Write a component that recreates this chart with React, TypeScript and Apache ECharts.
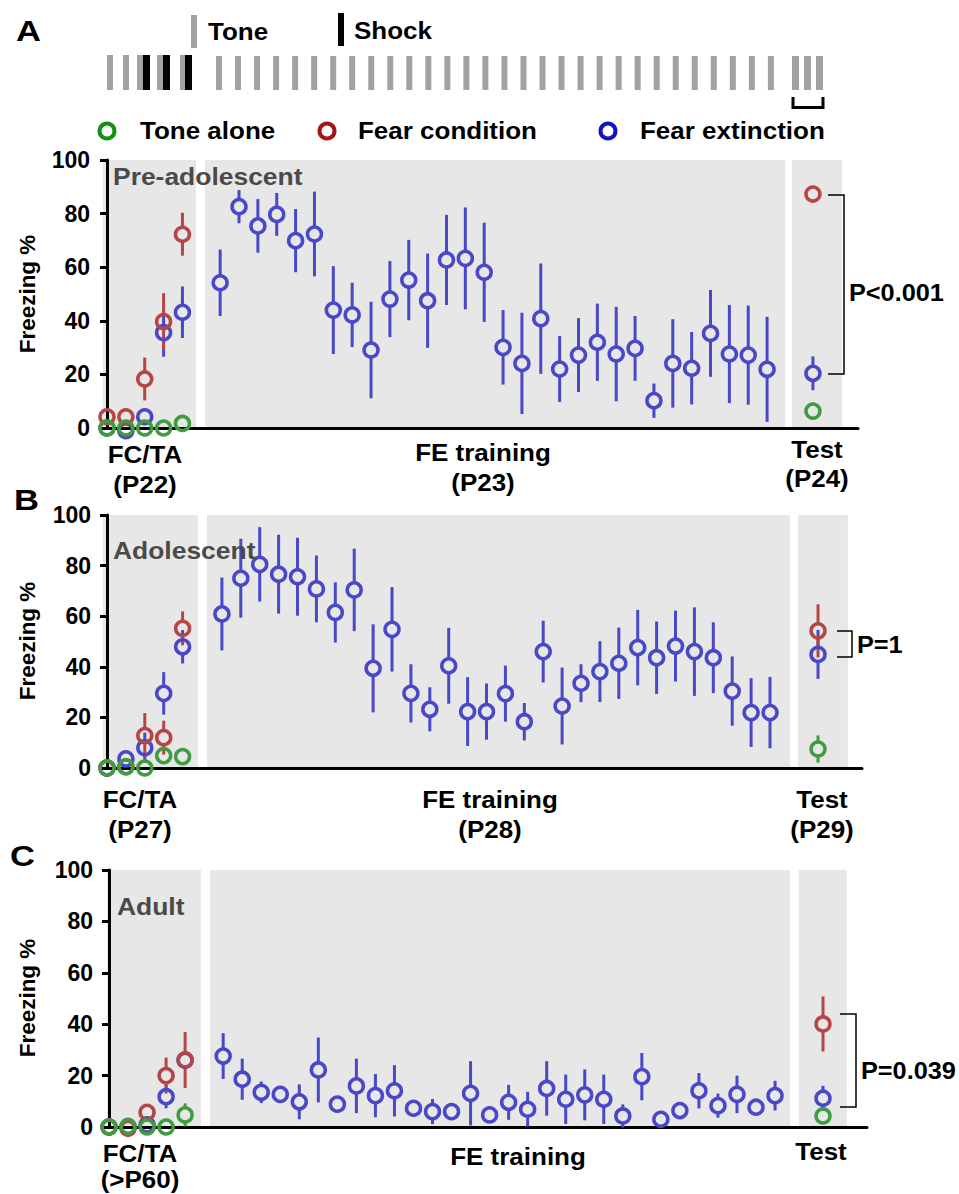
import React, { useEffect, useRef } from "react";
import * as echarts from "echarts";

const FONT = '"Liberation Sans", Arial, Helvetica, sans-serif';

// plot colours
const C_TONE = "#3f9c3f";
const C_FEAR = "#b64646";
const C_EXT = "#4848c8";
// legend colours
const L_TONE = "#129112";
const L_FEAR = "#a31616";
const L_EXT = "#1313c3";

// ---------------- DATA ----------------
const GROUPS = ["Tone alone", "Fear condition", "Fear extinction"];
const TICKS = [0, 20, 40, 60, 80, 100];

// Panel A: Pre-adolescent (FC/TA P22, FE P23, Test P24)
const A_TONE_FC = [0, 0, 0, 0, 1.7];
const A_TONE_FC_SEM = [0, 0, 0, 0, 0];
const A_FEAR_FC = [4.2, 4.2, 18.3, 39.7, 72.3];
const A_FEAR_FC_SEM = [0, 0, 8, 10.6, 8];
const A_EXT_FC = [0, -1, 4.2, 35.6, 43.2];
const A_EXT_FC_SEM = [0, 0, 0, 9, 9.6];
const A_EXT_FE = [54.2, 82.6, 75.4, 79.7, 69.9, 72.4, 44, 42.2, 29.1, 48.1, 55.2, 47.5, 62.7, 63.3, 58.1, 30.1, 24.1, 40.8, 22, 27.2, 32, 27.6, 29.7, 10.2, 24.1, 22.3, 35.3, 27.6, 27.2, 21.9];
const A_EXT_FE_SEM = [12.4, 6.2, 10, 8, 11.8, 15.8, 16.4, 12, 18, 14.2, 15, 17.6, 16.8, 19, 18.5, 13.9, 18.9, 20.6, 12.3, 13.8, 14.4, 17.6, 12.1, 6.4, 16.5, 13.5, 16.2, 18.3, 18.5, 19.6];
const A_TEST = [6.3, 87.3, 20.4]; // tone, fear, extinction
const A_TEST_SEM = [0, 0, 6.3];

// Panel B: Adolescent (FC/TA P27, FE P28, Test P29)
const B_TONE_FC = [0, 0.5, 0, 4.9, 4.5];
const B_TONE_FC_SEM = [0, 0, 0, 0, 0];
const B_FEAR_FC = [0, 0.5, 12.8, 12, 55.2];
const B_FEAR_FC_SEM = [0, 0, 8.9, 6.7, 6.7];
const B_EXT_FC = [0, 3.6, 8, 29.5, 47.9];
const B_EXT_FC_SEM = [0, 0, 6, 8.4, 6.6];
const B_EXT_FE = [60.9, 75, 80.5, 76.6, 75.6, 70.8, 61.5, 70.4, 39.4, 54.8, 29.5, 23.2, 40.4, 22.3, 22.3, 29.4, 18.3, 46, 24.5, 33.5, 38.1, 41.4, 47.6, 43.6, 48.2, 46, 43.6, 30.4, 21.9, 21.9];
const B_EXT_FE_SEM = [14.4, 15.6, 14.7, 15.6, 15.4, 13.2, 11.9, 16.3, 17.4, 16.7, 11.5, 8.7, 15, 13.6, 11.1, 11.1, 7.4, 12.2, 15.2, 7.5, 12, 14.1, 14.9, 14.3, 14, 17.5, 14, 13.7, 13.6, 14.1];
const B_TEST = [7.5, 54.2, 44.9];
const B_TEST_SEM = [5.4, 10.5, 9.7];

// Panel C: Adult (FC/TA >P60, FE, Test)
const C_TONE_FC = [0, 0.3, 0, 0, 4.7];
const C_TONE_FC_SEM = [0, 0, 0, 0, 4.5];
const C_FEAR_FC = [0, -0.5, 5.7, 20, 26.1];
const C_FEAR_FC_SEM = [0, 0, 0, 7, 10.9];
const C_EXT_FC = [0, 0, 0.8, 11.8, 26];
const C_EXT_FC_SEM = [0, 0, 0, 4.5, 0];
const C_EXT_FE = [27.6, 18.6, 13.5, 12.7, 9.8, 22.2, 8.9, 16, 12.2, 14.1, 7.3, 6, 6, 13.1, 4.7, 9.6, 6.9, 15, 10.8, 12.5, 10.8, 4.3, 19.6, 3, 6.4, 14.1, 8.3, 12.7, 7.7, 12.2];
const C_EXT_FE_SEM = [8.9, 8, 4.2, 0, 6.8, 12.6, 0, 10.6, 8.4, 10, 0, 4.9, 0, 12.5, 0, 6.8, 6.8, 10.6, 9.6, 9.9, 9.6, 4.5, 9.2, 0, 0, 6.9, 4.7, 7.3, 0, 5.8];
const C_TEST = [4.3, 40.1, 11.2];
const C_TEST_SEM = [0, 10.7, 4.8];

// ---------------- LAYOUT ----------------
type PanelData = {
  toneFC: number[]; toneFCSem: number[];
  fearFC: number[]; fearFCSem: number[];
  extFC: number[]; extFCSem: number[];
  extFE: number[]; extFESem: number[];
  test: number[]; testSem: number[];
};

const PANELS = [
  {
    left: 102, right: 858, top: 160, height: 268, origin: 107, step: 18.86, feStart: 6, testX: 37.43,
    bgs: [[-0.21, 4.72], [5.2, 35.95], [36.32, 38.97]],
    data: { toneFC: A_TONE_FC, toneFCSem: A_TONE_FC_SEM, fearFC: A_FEAR_FC, fearFCSem: A_FEAR_FC_SEM, extFC: A_EXT_FC, extFCSem: A_EXT_FC_SEM, extFE: A_EXT_FE, extFESem: A_EXT_FE_SEM, test: A_TEST, testSem: A_TEST_SEM } as PanelData,
  },
  {
    left: 103, right: 862, top: 515, height: 253, origin: 107, step: 18.9, feStart: 6.08, testX: 37.62,
    bgs: [[-0.21, 4.81], [5.29, 36.14], [36.56, 39.2]],
    data: { toneFC: B_TONE_FC, toneFCSem: B_TONE_FC_SEM, fearFC: B_FEAR_FC, fearFCSem: B_FEAR_FC_SEM, extFC: B_EXT_FC, extFCSem: B_EXT_FC_SEM, extFE: B_EXT_FE, extFESem: B_EXT_FE_SEM, test: B_TEST, testSem: B_TEST_SEM } as PanelData,
  },
  {
    left: 105, right: 867, top: 870, height: 257, origin: 109, step: 19.03, feStart: 6, testX: 37.52,
    bgs: [[-0.1, 4.83], [5.31, 35.79], [36.26, 38.78]],
    data: { toneFC: C_TONE_FC, toneFCSem: C_TONE_FC_SEM, fearFC: C_FEAR_FC, fearFCSem: C_FEAR_FC_SEM, extFC: C_EXT_FC, extFCSem: C_EXT_FC_SEM, extFE: C_EXT_FE, extFESem: C_EXT_FE_SEM, test: C_TEST, testSem: C_TEST_SEM } as PanelData,
  },
];

const R_GAP = 7.5;

function txt(text: string, x: number, y: number, o: any = {}) {
  return {
    type: "text",
    x,
    y,
    scaleX: o.sx ?? 1.13,
    rotation: o.rot ?? 0,
    z: 10,
    silent: true,
    style: {
      text,
      x: 0,
      y: 0,
      fill: o.color ?? "#000",
      fontSize: o.size ?? 23,
      fontWeight: "bold",
      fontFamily: FONT,
      textAlign: o.align ?? "left",
      align: o.align ?? "left",
      textVerticalAlign: "middle",
      verticalAlign: "middle",
    },
  };
}

function buildOption() {
  const grid: any[] = [];
  const xAxis: any[] = [];
  const yAxis: any[] = [];
  const series: any[] = [];

  PANELS.forEach((p, gi) => {
    grid.push({ left: p.left, top: p.top, width: p.right - p.left, height: p.height, containLabel: false });
    xAxis.push({
      gridIndex: gi, type: "value",
      min: (p.left - p.origin) / p.step, max: (p.right - p.origin) / p.step,
      z: 3,
      axisLine: { show: true, onZero: false, lineStyle: { color: "#000", width: 3 } },
      axisTick: { show: false }, axisLabel: { show: false }, splitLine: { show: false },
    });
    yAxis.push({
      gridIndex: gi, type: "value", min: TICKS[0], max: TICKS[TICKS.length - 1], interval: 20,
      z: 3,
      axisLine: { show: true, lineStyle: { color: "#000", width: 3 } },
      axisTick: { show: true, length: 7, lineStyle: { color: "#000", width: 3 } },
      axisLabel: { fontSize: 23, fontWeight: "bold", color: "#000", fontFamily: FONT, margin: 12 },
      splitLine: { show: false },
    });

    // gray backgrounds
    series.push({
      type: "custom", xAxisIndex: gi, yAxisIndex: gi, z: 1, silent: true,
      data: p.bgs.map((b) => [b[0], b[1], 0]),
      encode: { x: [0, 1], y: 2 },
      renderItem: (params: any, api: any) => {
        const a = api.coord([api.value(0), 100]);
        const b = api.coord([api.value(1), 0]);
        return { type: "rect", shape: { x: a[0], y: a[1], width: b[0] - a[0], height: b[1] - a[1] }, style: { fill: "#e7e7e7" } };
      },
    });

    const d = p.data;
    const fcX = (i: number) => i;
    const tone = d.toneFC.map((v, i) => [fcX(i), v, d.toneFCSem[i]]).concat([[p.testX, d.test[0], d.testSem[0]]]);
    const fear = d.fearFC.map((v, i) => [fcX(i), v, d.fearFCSem[i]]).concat([[p.testX, d.test[1], d.testSem[1]]]);
    const ext = d.extFC.map((v, i) => [fcX(i), v, d.extFCSem[i]])
      .concat(d.extFE.map((v, i) => [p.feStart + i, v, d.extFESem[i]]))
      .concat([[p.testX, d.test[2], d.testSem[2]]]);

    const groups: [any[], string, string][] = [[ext, C_EXT, GROUPS[2]], [fear, C_FEAR, GROUPS[1]], [tone, C_TONE, GROUPS[0]]];
    groups.forEach(([pts, color, name]) => {
      series.push({
        type: "custom", name: name + " SEM", xAxisIndex: gi, yAxisIndex: gi, z: 4, silent: true, clip: false,
        data: pts, encode: { x: 0, y: 1 },
        renderItem: (params: any, api: any) => {
          const x = api.value(0), m = api.value(1), e = api.value(2);
          const c = api.coord([x, m]);
          const hi = api.coord([x, m + e]);
          const lo = api.coord([x, m - e]);
          const children: any[] = [];
          if (c[1] - hi[1] > R_GAP) children.push({ type: "line", shape: { x1: c[0], y1: hi[1], x2: c[0], y2: c[1] - R_GAP }, style: { stroke: color, lineWidth: 3 } });
          if (lo[1] - c[1] > R_GAP) children.push({ type: "line", shape: { x1: c[0], y1: c[1] + R_GAP, x2: c[0], y2: lo[1] }, style: { stroke: color, lineWidth: 3 } });
          return { type: "group", children };
        },
      });
    });
    groups.forEach(([pts, color, name]) => {
      series.push({
        type: "scatter", name, xAxisIndex: gi, yAxisIndex: gi, z: 5, silent: true, clip: false,
        symbol: "circle", symbolSize: 14,
        itemStyle: { color: "rgba(0,0,0,0)", borderColor: color, borderWidth: 3.5, opacity: 1 },
        data: pts.map((q) => [q[0], q[1]]),
      });
    });
  });

  // ---------- graphic annotations ----------
  const g: any[] = [];
  const GRAY = "#a2a2a6";
  // protocol schematic
  g.push({ type: "rect", z: 10, silent: true, shape: { x: 191, y: 15, width: 6, height: 33 }, style: { fill: GRAY } });
  g.push(txt("Tone", 208, 32));
  g.push({ type: "rect", z: 10, silent: true, shape: { x: 338, y: 13, width: 6, height: 33 }, style: { fill: "#000" } });
  g.push(txt("Shock", 354, 31));
  [107, 123, 137, 157, 180].forEach((x) => g.push({ type: "rect", z: 10, silent: true, shape: { x, y: 55, width: 6, height: 35 }, style: { fill: GRAY } }));
  [143, 163, 185].forEach((x) => g.push({ type: "rect", z: 10, silent: true, shape: { x, y: 55, width: 7, height: 35 }, style: { fill: "#000" } }));
  for (let i = 0; i < 30; i++) {
    g.push({ type: "rect", z: 10, silent: true, shape: { x: 216 + i * 19.03, y: 56, width: 6, height: 34 }, style: { fill: GRAY } });
  }
  [792, 804, 816].forEach((x) => g.push({ type: "rect", z: 10, silent: true, shape: { x, y: 56, width: 7, height: 34 }, style: { fill: GRAY } }));
  g.push({ type: "polyline", z: 10, silent: true, shape: { points: [[793, 97], [793, 107.5], [823, 107.5], [823, 97]] }, style: { stroke: "#000", lineWidth: 3, fill: null } });

  // legend
  const leg: [number, number, string, string][] = [[107, 140, L_TONE, GROUPS[0]], [327, 358, L_FEAR, GROUPS[1]], [608, 640, L_EXT, GROUPS[2]]];
  leg.forEach(([cx, tx, col, name]) => {
    g.push({ type: "circle", z: 10, silent: true, shape: { cx, cy: 131, r: 7.5 }, style: { fill: "rgba(0,0,0,0)", stroke: col, lineWidth: 4 } });
    g.push(txt(name, tx, 131));
  });

  // panel letters
  g.push(txt("A", 16, 31, { size: 30, sx: 1.15 }));
  g.push(txt("B", 14, 500, { size: 30, sx: 1.15 }));
  g.push(txt("C", 10, 856, { size: 30, sx: 1.15 }));

  // panel titles
  g.push(txt("Pre-adolescent", 113, 177, { color: "#4a4a4a", sx: 1.15 }));
  g.push(txt("Adolescent", 113, 551, { color: "#4a4a4a", sx: 1.15 }));
  g.push(txt("Adult", 117, 907, { color: "#4a4a4a", sx: 1.15 }));

  // y titles
  [294, 641, 998].forEach((y) => g.push(txt("Freezing %", 28, y, { size: 22, sx: 1.02, rot: Math.PI / 2, align: "center" })));

  // x labels
  const xl: [string, number, number][] = [
    ["FC/TA", 145, 455], ["(P22)", 145, 485], ["FE training", 483, 453], ["(P23)", 483, 483], ["Test", 817, 450], ["(P24)", 817, 479],
    ["FC/TA", 140, 800], ["(P27)", 140, 830], ["FE training", 490, 800], ["(P28)", 490, 830], ["Test", 822, 800], ["(P29)", 822, 830],
    ["FC/TA", 140, 1154], ["(>P60)", 140, 1180], ["FE training", 518, 1157], ["Test", 821, 1152],
  ];
  xl.forEach(([t, x, y]) => g.push(txt(t, x, y, { align: "center" })));

  // significance brackets
  const br: [number, number, number, number, string, number][] = [
    [828, 844, 195, 374, "P<0.001", 293],
    [837, 852, 631, 657, "P=1", 645],
    [840, 856, 1014, 1107, "P=0.039", 1071],
  ];
  br.forEach(([x0, x1, y0, y1, label, ly]) => {
    g.push({ type: "polyline", z: 10, silent: true, shape: { points: [[x0, y0], [x1, y0], [x1, y1], [x0, y1]] }, style: { stroke: "#000", lineWidth: 1.5, fill: null } });
    g.push(txt(label, x1 + 5, ly, { sx: 1.1 }));
  });

  return {
    animation: false,
    backgroundColor: "#fff",
    grid,
    xAxis,
    yAxis,
    series,
    graphic: { elements: g },
  };
}

export default function App() {
  const ref = useRef<HTMLDivElement>(null);
  useEffect(() => {
    if (!ref.current) return;
    const chart = echarts.init(ref.current, undefined, { renderer: "svg" });
    chart.setOption(buildOption() as any);
    return () => chart.dispose();
  }, []);
  return <div ref={ref} style={{ position: "absolute", left: 0, top: 0, width: 959, height: 1194, background: "#fff" }} />;
}
